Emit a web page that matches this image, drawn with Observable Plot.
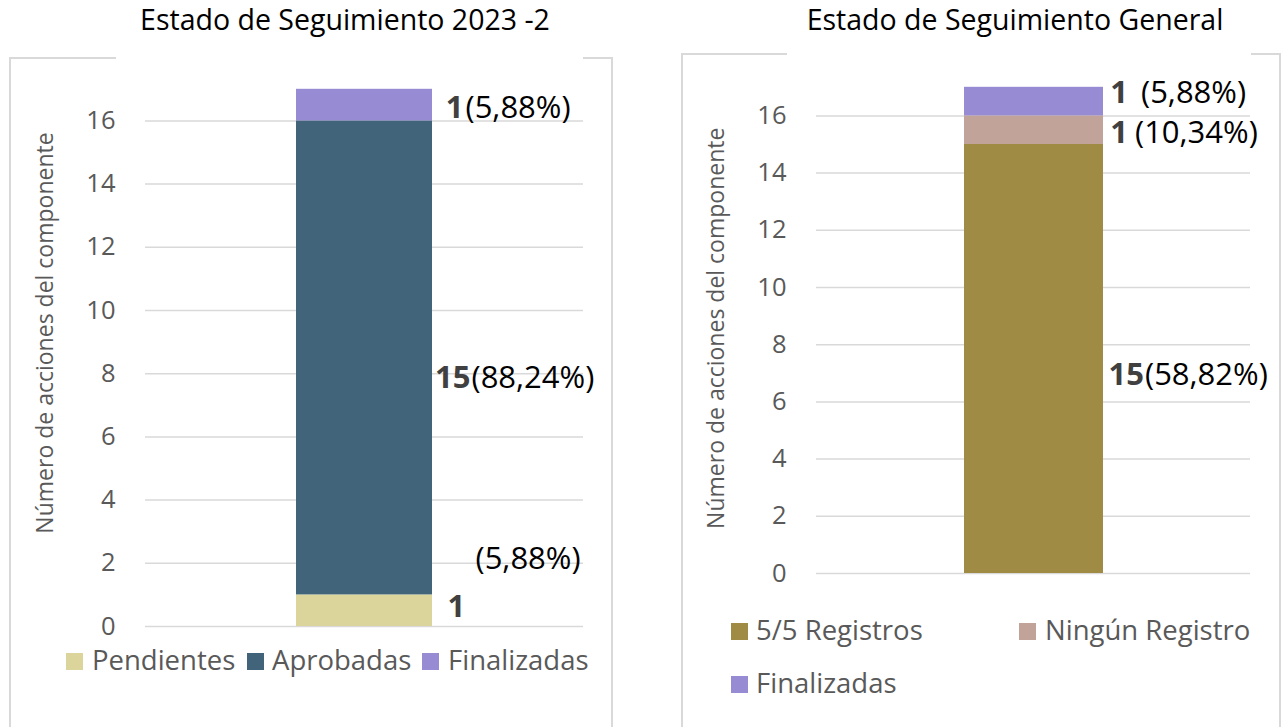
<!DOCTYPE html>
<html>
<head>
<meta charset="utf-8">
<script src="https://cdn.jsdelivr.net/npm/d3@7"></script>
<script src="https://cdn.jsdelivr.net/npm/@observablehq/plot@0.6"></script>
<style>
  html, body { margin: 0; padding: 0; background: #fff; }
  #page { position: relative; width: 1284px; height: 727px; overflow: hidden; font-family: "Open Sans", sans-serif; }
  .title { position: absolute; top: 0px; font-size: 28.5px; color: #000; white-space: nowrap; transform: translateX(-50%); }
  .edge { position: absolute; background: #d9d9d9; }
  .legend { position: absolute; font-size: 27.5px; color: #595959; white-space: nowrap; }
  .sw { position: absolute; width: 17px; height: 17px; }
  .lt { position: absolute; line-height: 1; }
  svg { position: absolute; top: 0; }
</style>
</head>
<body>
<div id="page"></div>
<script>
// ---------- data ----------
const leftTitle = "Estado de Seguimiento 2023 -2";
const leftGroup = "2023-2";
const leftSeries = ["Pendientes", "Aprobadas", "Finalizadas"];
const leftValues = [1, 15, 1];
const leftPercents = ["(5,88%)", "(88,24%)", "(5,88%)"];
const leftColors = ["#dbd59c", "#41647a", "#978bd3"];

const rightTitle = "Estado de Seguimiento General";
const rightGroup = "General";
const rightSeries = ["5/5 Registros", "Ningún Registro", "Finalizadas"];
const rightValues = [15, 1, 1];
const rightPercents = ["(58,82%)", "(10,34%)", "(5,88%)"];
const rightColors = ["#a08b45", "#c2a39a", "#978bd3"];

const yTicks = [0, 2, 4, 6, 8, 10, 12, 14, 16];
const yTitle = "Número de acciones del componente";

// ---------- helpers ----------
const FONT = "Open Sans, sans-serif";
const page = document.getElementById("page");

function el(cls, style, text) {
  const d = document.createElement("div");
  d.className = cls;
  Object.assign(d.style, style);
  if (text != null) d.textContent = text;
  page.appendChild(d);
  return d;
}

function rowsOf(group, series, values, percents) {
  let acc = 0;
  return series.map((s, i) => {
    const y1 = acc; acc += values[i];
    return {group, series: s, value: values[i], num: String(values[i]), pct: percents[i], mid: (y1 + acc) / 2};
  });
}

function chart(cfg) {
  const rows = rowsOf(cfg.group, cfg.series, cfg.values, cfg.percents);
  const labelMarks = [];
  rows.forEach((r, i) => {
    const o = cfg.labelOffsets[i];
    labelMarks.push(Plot.text([r], {
      x: "group", y: "mid", text: "num", dx: o.ndx, dy: o.ndy, textAnchor: o.nAnchor,
      fontWeight: "bold", fontSize: 31, fill: "#404040"
    }));
    labelMarks.push(Plot.text([r], {
      x: "group", y: "mid", text: "pct", dx: o.pdx, dy: o.pdy, textAnchor: "start",
      fontSize: 31, fill: "#000"
    }));
  });
  const svg = Plot.plot({
    width: cfg.width, height: 727,
    marginLeft: cfg.ml, marginRight: cfg.mr, marginTop: cfg.mt, marginBottom: cfg.mb,
    style: {fontFamily: FONT, background: "transparent", overflow: "visible"},
    x: {domain: [cfg.group], padding: cfg.pad, axis: null},
    y: {domain: [0, 17.5], axis: null},
    color: {domain: cfg.series, range: cfg.colors},
    marks: [
      Plot.ruleY(yTicks, {stroke: "#d9d9d9", strokeWidth: 1.5}),
      Plot.barY(rows, {x: "group", y: "value", fill: "series"}),
      Plot.axisY({ticks: yTicks, tickSize: 0, tickPadding: cfg.tp, fontSize: 25.5, fill: "#595959", label: null}),
      Plot.text([yTitle], {frameAnchor: "left", textAnchor: "middle", dx: cfg.ytdx, dy: cfg.ytdy, rotate: -90, fontSize: 23, fill: "#595959"}),
      ...labelMarks
    ]
  });
  svg.style.left = cfg.left + "px";
  page.appendChild(svg);
}

// ---------- frames & titles ----------
// left box
el("edge", {left: "9px", top: "57px", width: "2px", height: "680px"});
el("edge", {left: "611px", top: "57px", width: "2px", height: "680px"});
el("edge", {left: "9px", top: "57px", width: "107px", height: "2px"});
el("edge", {left: "583px", top: "57px", width: "30px", height: "2px"});
// right box
el("edge", {left: "681px", top: "53px", width: "2px", height: "680px"});
el("edge", {left: "1279px", top: "53px", width: "2px", height: "680px"});
el("edge", {left: "681px", top: "53px", width: "106px", height: "2px"});
el("edge", {left: "1251px", top: "53px", width: "30px", height: "2px"});

el("title", {left: "345px"}, leftTitle);
el("title", {left: "1015px"}, rightTitle);

// ---------- charts ----------
chart({
  group: leftGroup, series: leftSeries, values: leftValues, percents: leftPercents, colors: leftColors,
  left: 0, width: 640, ml: 145, mr: 57, mt: 73, mb: 101, pad: 0.526, tp: 30, ytdx: -100, ytdy: -17,
  labelOffsets: [
    {ndx: 83, ndy: -4, nAnchor: "start", pdx: 111, pdy: -52},
    {ndx: 106, ndy: 20, nAnchor: "end", pdx: 107, pdy: 20},
    {ndx: 99, ndy: 3, nAnchor: "end", pdx: 101, pdy: 3}
  ]
});

chart({
  group: rightGroup, series: rightSeries, values: rightValues, percents: rightPercents, colors: rightColors,
  left: 660, width: 624, ml: 156, mr: 34, mt: 72.5, mb: 154, pad: 0.515, tp: 30, ytdx: -100, ytdy: 5,
  labelOffsets: [
    {ndx: 110, ndy: 16, nAnchor: "end", pdx: 111, pdy: 16},
    {ndx: 94, ndy: 3, nAnchor: "end", pdx: 101, pdy: 3},
    {ndx: 94, ndy: -9, nAnchor: "end", pdx: 107, pdy: -9}
  ]
});

// ---------- legends ----------
function legendItem(color, label, sx, sy, tx) {
  el("sw", {left: sx + "px", top: sy + "px", background: color});
  el("legend lt", {left: tx + "px", top: (sy - 7) + "px"}, label);
}
legendItem(leftColors[0], leftSeries[0], 66, 653, 92);
legendItem(leftColors[1], leftSeries[1], 247, 653, 272);
legendItem(leftColors[2], leftSeries[2], 422, 653, 448);

legendItem(rightColors[0], rightSeries[0], 731, 623, 756);
legendItem(rightColors[1], rightSeries[1], 1019, 623, 1045);
legendItem(rightColors[2], rightSeries[2], 731, 676, 756);
</script>
</body>
</html>
